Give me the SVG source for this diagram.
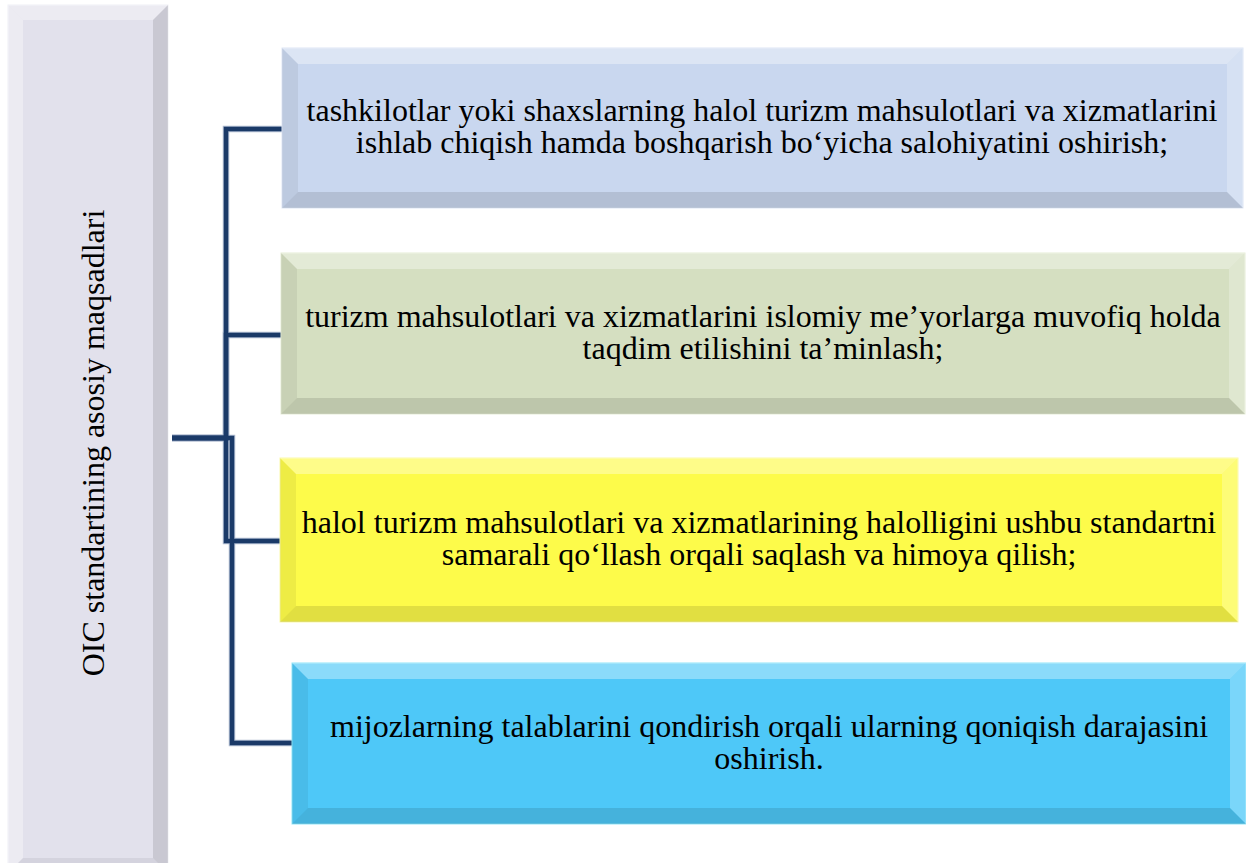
<svg xmlns="http://www.w3.org/2000/svg" width="1246" height="863" viewBox="0 0 1246 863">
<style>
.lt{fill:#ffffff;fill-opacity:0.35}
.lt2{fill:#ffffff;fill-opacity:0.25}
.dk{fill:#000000;fill-opacity:0.06}
.dk2{fill:#000000;fill-opacity:0.11}
.txt{font-family:"Liberation Serif","Times New Roman",serif;font-size:32px;fill:#000000;text-anchor:middle}
.halo{fill:none;stroke:#AEBBD0;stroke-width:6.5}
.line{fill:none;stroke:#1B3A68;stroke-width:4.5}
</style>
<rect width="1246" height="863" fill="#ffffff"/>
<g id="root">
<rect x="8" y="5" width="160" height="868" fill="#E2E1EC" stroke="#F0F0F6" stroke-width="1"/>
<polygon class="lt" points="8,5 168,5 153,20 23,20"/>
<polygon class="lt" points="8,5 23,20 23,858 8,873"/>
<polygon class="dk2" points="168,5 168,873 153,858 153,20"/>
<polygon class="dk" points="8,873 23,858 153,858 168,873"/>
<text class="txt" transform="translate(104,443) rotate(-90)">OIC standartining asosiy maqsadlari</text>
</g>
<g id="connectors">
<path class="halo" d="M172,438 H226 V129 H282"/>
<path class="halo" d="M172,438 H226 V335 H282"/>
<path class="halo" d="M172,438 H226 V541 H280"/>
<path class="halo" d="M172,438 H232 V743 H292"/>
<path class="line" d="M172,438 H226 V129 H282"/>
<path class="line" d="M172,438 H226 V335 H282"/>
<path class="line" d="M172,438 H226 V541 H280"/>
<path class="line" d="M172,438 H232 V743 H292"/>
</g>
<g id="node1">
<rect x="282" y="48" width="961" height="160" fill="#C9D7EF" stroke="#DDE6F5" stroke-width="1"/>
<polygon class="lt" points="282,48 1243,48 1227,64 298,64"/>
<polygon class="dk" points="282,48 298,64 298,192 282,208"/>
<polygon class="lt2" points="1243,48 1243,208 1227,192 1227,64"/>
<polygon class="dk2" points="282,208 298,192 1227,192 1243,208"/>
<text class="txt" x="762" y="121">tashkilotlar yoki shaxslarning halol turizm mahsulotlari va xizmatlarini</text>
<text class="txt" x="762" y="153">ishlab chiqish hamda boshqarish bo‘yicha salohiyatini oshirish;</text>
</g>
<g id="node2">
<rect x="281" y="253" width="964" height="161" fill="#D5DFC1" stroke="#E6EDD6" stroke-width="1"/>
<polygon class="lt" points="281,253 1245,253 1229,269 297,269"/>
<polygon class="dk" points="281,253 297,269 297,398 281,414"/>
<polygon class="lt2" points="1245,253 1245,414 1229,398 1229,269"/>
<polygon class="dk2" points="281,414 297,398 1229,398 1245,414"/>
<text class="txt" x="763" y="327">turizm mahsulotlari va xizmatlarini islomiy me’yorlarga muvofiq holda</text>
<text class="txt" x="763" y="359">taqdim etilishini ta’minlash;</text>
</g>
<g id="node3">
<rect x="280" y="458" width="958" height="164" fill="#FDFB4A" stroke="#FBF9A8" stroke-width="1"/>
<polygon class="lt" points="280,458 1238,458 1222,474 296,474"/>
<polygon class="dk" points="280,458 296,474 296,606 280,622"/>
<polygon class="lt2" points="1238,458 1238,622 1222,606 1222,474"/>
<polygon class="dk2" points="280,622 296,606 1222,606 1238,622"/>
<text class="txt" x="759" y="533">halol turizm mahsulotlari va xizmatlarining halolligini ushbu standartni</text>
<text class="txt" x="759" y="565">samarali qo‘llash orqali saqlash va himoya qilish;</text>
</g>
<g id="node4">
<rect x="292" y="663" width="954" height="161" fill="#4EC8F8" stroke="#8FE6FA" stroke-width="1"/>
<polygon class="lt" points="292,663 1246,663 1230,679 308,679"/>
<polygon class="dk" points="292,663 308,679 308,808 292,824"/>
<polygon class="lt2" points="1246,663 1246,824 1230,808 1230,679"/>
<polygon class="dk2" points="292,824 308,808 1230,808 1246,824"/>
<text class="txt" x="769" y="737">mijozlarning talablarini qondirish orqali ularning qoniqish darajasini</text>
<text class="txt" x="769" y="769">oshirish.</text>
</g>
</svg>
